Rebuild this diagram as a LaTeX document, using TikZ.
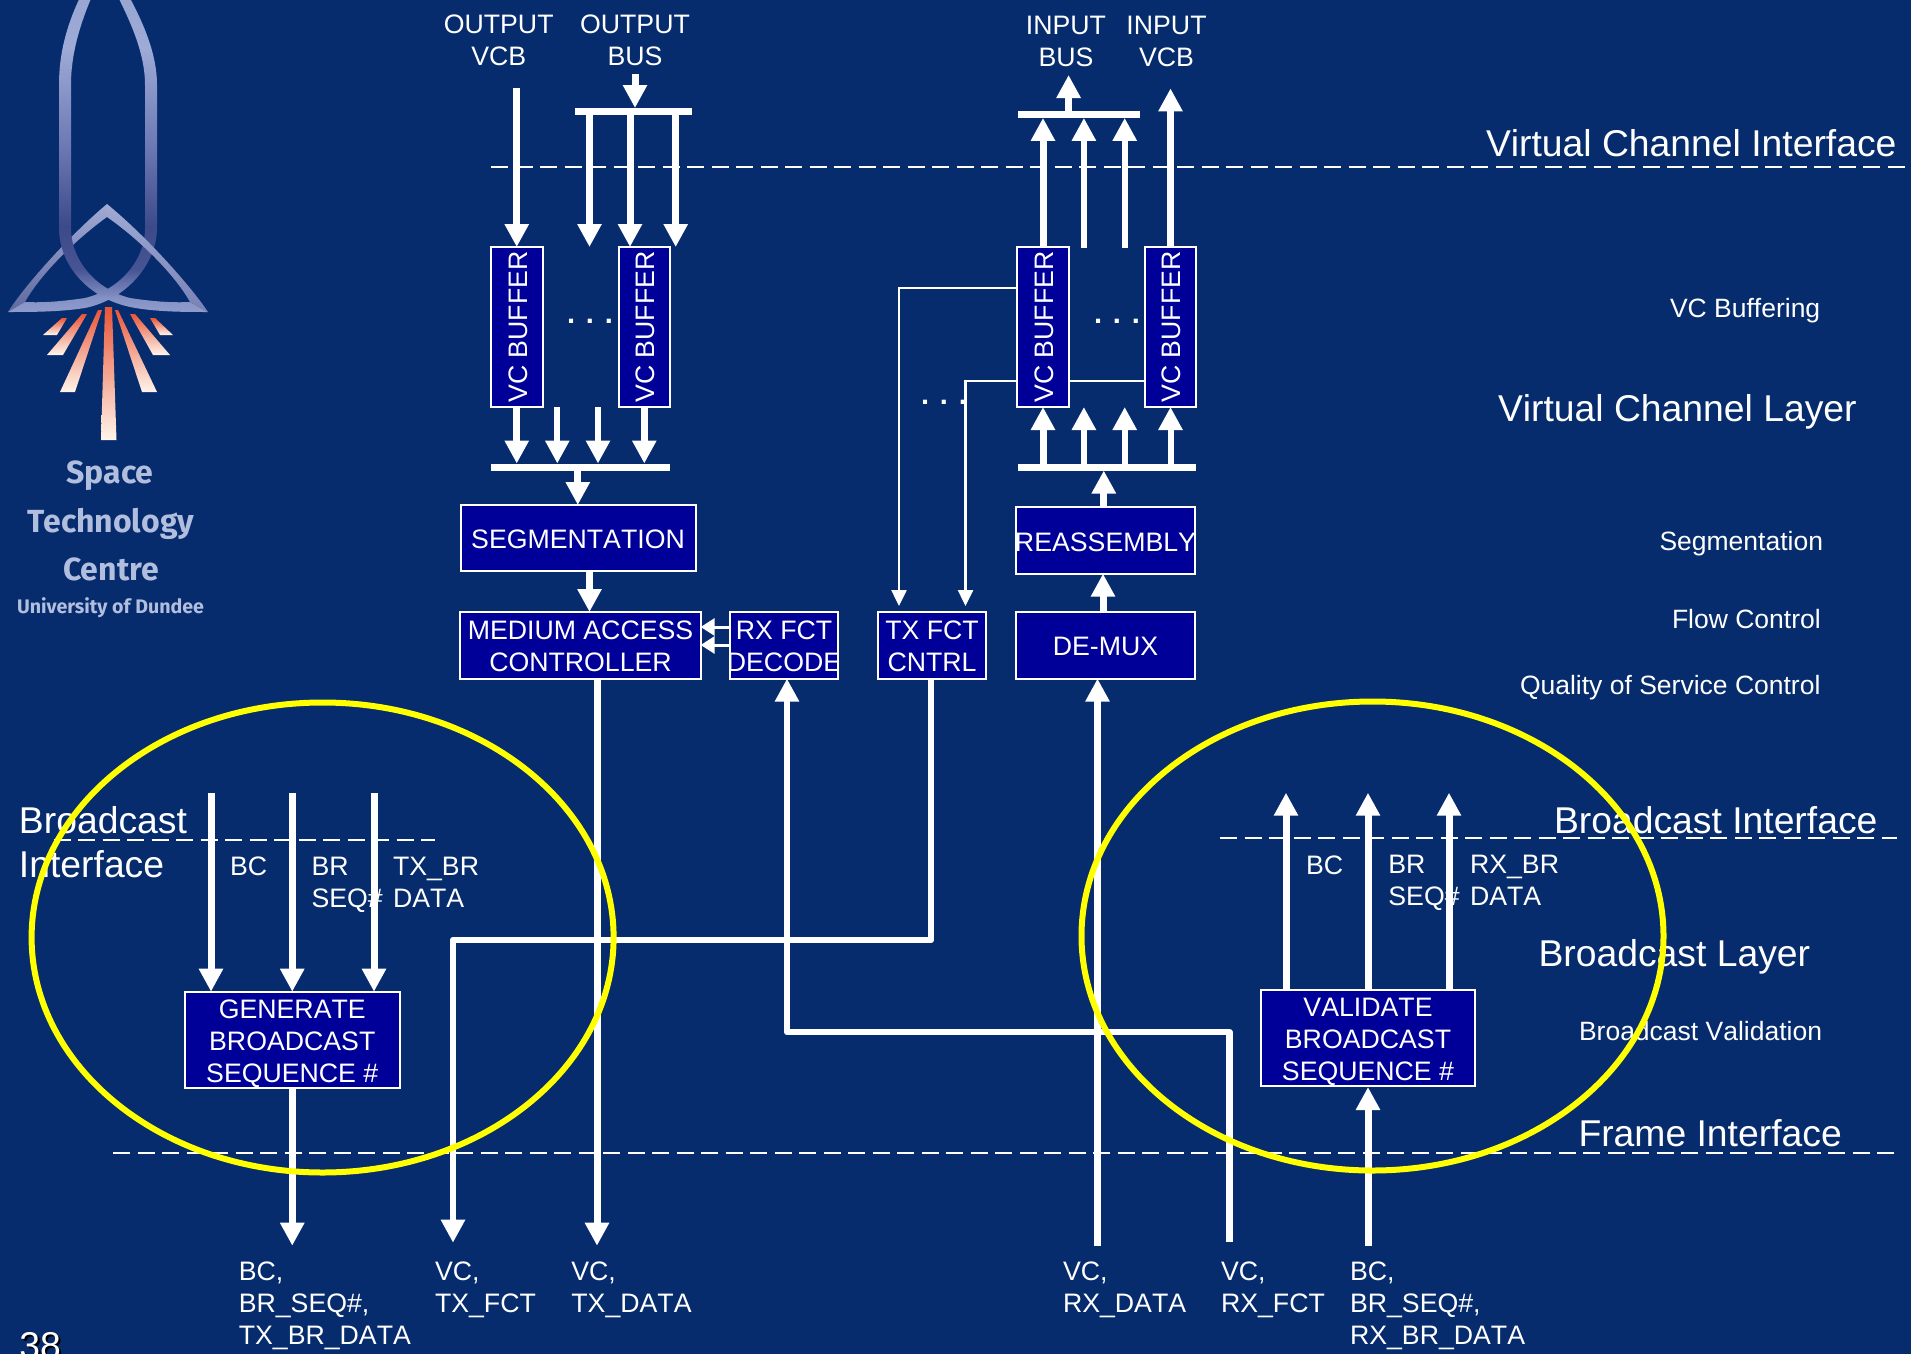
\documentclass[tikz,border=0pt]{standalone}
\usepackage{fontspec}
\setmainfont[Kerning=Off]{Liberation Sans}
\newfontfamily\logofont{Fira Sans}
\usetikzlibrary{arrows.meta}
\definecolor{bgblue}{RGB}{6,44,110}
\definecolor{boxblue}{RGB}{0,0,153}
\definecolor{ringyellow}{RGB}{255,255,0}
\definecolor{logotext}{RGB}{178,190,222}
\definecolor{tritop}{RGB}{160,170,212}
\definecolor{trimid}{RGB}{120,130,182}
\definecolor{trilow}{RGB}{95,105,160}
\definecolor{raytop}{RGB}{232,85,55}
\definecolor{raybot}{RGB}{255,245,235}
\pgfdeclareverticalshading{logoarch}{100bp}{
  rgb(0bp)=(.56,.61,.80);
  rgb(25bp)=(.56,.61,.80);
  rgb(27bp)=(.52,.57,.77);
  rgb(31bp)=(.28,.33,.58);
  rgb(37bp)=(.24,.29,.54);
  rgb(48bp)=(.42,.47,.70);
  rgb(62bp)=(.62,.67,.84);
  rgb(69bp)=(.60,.65,.82);
  rgb(100bp)=(.60,.65,.82)}
\newcommand\fsm{\fontsize{26.7}{32}\selectfont}
\newcommand\fsn{\fontsize{26.5}{32}\selectfont}
\newcommand\fbig{\fontsize{37.3}{44}\selectfont}
\tikzset{
  x=1pt,y=-1pt,
  blockbox/.style={draw=white,line width=2pt,fill=boxblue,text=white,inner sep=0pt,outer sep=0pt,align=center,font=\fsm},
  busbar/.style={fill=white,inner sep=0pt,outer sep=0pt,minimum height=7pt},
  fatarrow/.style={white,line width=7pt,-{Triangle[length=23pt,width=23pt]}},
  midarrow/.style={white,line width=6pt,-{Triangle[length=23pt,width=23pt]}},
  fatline/.style={white,line width=6.5pt,line join=round},
  midline/.style={white,line width=6pt},
  tinyarrow/.style={white,line width=3pt,-{Triangle[length=14pt,width=17pt]}},
  wirearrow/.style={white,line width=2.5pt,-{Triangle[length=16pt,width=15pt]}},
  wire/.style={white,line width=2.5pt},
  ifaceline/.style={white,line width=2.5pt,dash pattern=on 17pt off 7.5pt},
  lab/.style={text=white,font=\fsm,inner sep=0pt,outer sep=0pt,align=left,anchor=north west},
  labc/.style={text=white,font=\fsm,inner sep=0pt,outer sep=0pt,align=center,anchor=north},
  biglab/.style={text=white,font=\fbig,inner sep=0pt,outer sep=0pt,anchor=base west},
  smalllab/.style={text=white,font=\fsn,inner sep=0pt,outer sep=0pt,anchor=base west},
  dots/.style={text=white,font=\bfseries\fontsize{29}{32}\selectfont,inner sep=0pt,outer sep=0pt,anchor=base},
  ring/.style={ringyellow,line width=6pt},
  raysh/.style={top color=raytop,bottom color=raybot},
  logolab/.style={text=logotext,inner sep=0pt,outer sep=0pt,anchor=center},
}
\begin{document}
\begin{tikzpicture}
\useasboundingbox (0,0) rectangle (1911,1354);
\clip (0,0) rectangle (1911,1354);
\fill[bgblue] (0,0) rectangle (1911,1354);

% --- logo
\shade[top color=tritop,bottom color=trilow]
  (107,204) .. controls (70,235) and (25,285) .. (8,312)
  -- (25,302) .. controls (40,275) and (75,240) .. (107,217) -- cycle;
\shade[shading=logoarch]
  (8,312) .. controls (30,312) and (60,312) .. (85,308)
  .. controls (125,300) and (157,265) .. (157,228) -- (157,85)
  .. controls (157,50) and (140,10) .. (104,-45)
  .. controls (68,10) and (59,50) .. (59,85) -- (59,228)
  .. controls (59,265) and (88,298) .. (130,307)
  .. controls (155,312) and (185,312) .. (208,312)
  -- (190,302) .. controls (170,303) and (150,301) .. (130,298)
  .. controls (98,290) and (71,262) .. (71,228) -- (71,85)
  .. controls (71,50) and (82,15) .. (104,-30)
  .. controls (128,15) and (145,50) .. (145,85) -- (145,228)
  .. controls (145,262) and (118,290) .. (85,298)
  .. controls (65,301) and (45,303) .. (25,302) -- cycle;
\shade[top color=tritop,bottom color=trimid]
  (107,204) .. controls (145,235) and (190,285) .. (208,312)
  -- (190,302) .. controls (175,275) and (140,240) .. (107,217) -- cycle;
\shade[raysh] (105,307) -- (112,307) -- (116.5,440) -- (101,440) -- cycle;
\shade[raysh] (98,310) -- (102,310) -- (75,392) -- (60,392) -- cycle;
\shade[raysh] (115,310) -- (118,310) -- (157,392) -- (142,392) -- cycle;
\shade[raysh] (82,314) -- (87,314) -- (63,355) -- (47,355) -- cycle;
\shade[raysh] (130,314) -- (135,314) -- (170,355) -- (153,355) -- cycle;
\shade[raysh] (62,318) -- (67,318) -- (57,335) -- (43,335) -- cycle;
\shade[raysh] (150,318) -- (155,318) -- (173,335) -- (160,335) -- cycle;
\node[logolab,font=\logofont\bfseries\fontsize{32}{38}\selectfont] (lgA) at (110,476) {Space};
\node[logolab,font=\logofont\bfseries\fontsize{32}{38}\selectfont] (lgB) at (111,523.5) {Technology};
\node[logolab,font=\logofont\bfseries\fontsize{32}{38}\selectfont] (lgC) at (111,569) {Centre};
\node[logolab,font=\logofont\bfseries\fontsize{19.6}{25}\selectfont] (lgD) at (110.5,608) {University of Dundee};

% --- interface lines
\coordinate (vciL) at (491,167);   \coordinate (vciR) at (1911,167);
\coordinate (biaL) at (53.6,840);  \coordinate (biaR) at (435,840);
\coordinate (bibL) at (1220,838);  \coordinate (bibR) at (1897,838);
\coordinate (friL) at (113,1153);  \coordinate (friR) at (1899,1153);
\draw[ifaceline] (vciL) -- (vciR);
\draw[ifaceline] (biaL) -- (biaR);
\draw[ifaceline] (bibL) -- (bibR);
\draw[ifaceline] (friL) -- (friR);

% --- blocks
\node[blockbox,minimum width=51.5pt,minimum height=160pt] (vcA) at (516.75,327) {\rotatebox{90}{\rule{0pt}{21pt}VC BUFFER}};
\node[blockbox,minimum width=51.5pt,minimum height=160pt] (vcB) at (644.3,327) {\rotatebox{90}{\rule{0pt}{21pt}VC BUFFER}};
\node[blockbox,minimum width=51.5pt,minimum height=160pt] (vcC) at (1043,327) {\rotatebox{90}{\rule{0pt}{21pt}VC BUFFER}};
\node[blockbox,minimum width=51.5pt,minimum height=160pt] (vcD) at (1170.5,327) {\rotatebox{90}{\rule{0pt}{21pt}VC BUFFER}};
\node[blockbox,minimum width=235pt,minimum height=66.4pt] (seg) at (578,538.2) {\rule{0pt}{21pt}SEGMENTATION};
\node[blockbox,minimum width=240.3pt,minimum height=66.6pt] (mac) at (580.5,645.3) {\rule{0pt}{21pt}MEDIUM ACCESS\\CONTROLLER};
\node[blockbox,minimum width=108pt,minimum height=66.6pt,
  path picture={\node[text=white,font=\fsm,align=center,inner sep=0pt] (rxtxt) at ([yshift=-1pt]path picture bounding box.center) {RX FCT\\DECODE};}]
  (rx) at (784,645.3) {};
\node[blockbox,minimum width=108pt,minimum height=66.6pt] (tx) at (932,645.3) {\rule{0pt}{21pt}TX FCT\\CNTRL};
\node[blockbox,minimum width=179pt,minimum height=66.6pt] (demux) at (1105.5,645.3) {\rule{0pt}{21pt}DE-MUX};
\node[blockbox,minimum width=179pt,minimum height=66.7pt] (reasm) at (1105.5,540.3) {\rule{0pt}{23pt}\makebox[0pt]{REASSEMBLY}};
\node[blockbox,minimum width=214.5pt,minimum height=94pt] (gen) at (292.25,1039.7) {\rule{0pt}{27pt}GENERATE\\BROADCAST\\SEQUENCE \#};
\node[blockbox,minimum width=214pt,minimum height=94.3pt] (val) at (1368,1037.9) {\rule{0pt}{27pt}VALIDATE\\BROADCAST\\SEQUENCE \#};

% --- bus bars
\node[busbar,minimum width=116.8pt] (busA) at (633.1,111.5) {};
\node[busbar,minimum width=179pt] (busB) at (580.5,467) {};
\node[busbar,minimum width=178.5pt] (busC) at (1106.75,467) {};
\node[busbar,minimum width=122.5pt] (busD) at (1078.75,114.4) {};

% --- free ends
\coordinate (inOVCB) at (516.75,88);
\coordinate (inOBUS) at (635,74.5);
\coordinate (outA) at (589.5,247);
\coordinate (outB) at (675.7,247);
\coordinate (lowA) at (557.3,407);
\coordinate (lowB) at (598,407);
\coordinate (upA) at (1083.9,247.5);
\coordinate (upB) at (1124.7,247.5);
\coordinate (tipIBUS) at (1068.6,75);
\coordinate (tipIVCB) at (1170.5,88.4);
\coordinate (wireA) at (899,288);
\coordinate (wireB) at (965.5,381);
\coordinate (wireAe) at (899,606);
\coordinate (wireBe) at (965.5,606);
\coordinate (macE) at (597,1245.7);
\coordinate (txC) at (453,940);
\coordinate (txE) at (453,1242.7);
\coordinate (rxS) at (1229.4,1242);
\coordinate (rxC) at (1229.4,1032);
\coordinate (dmS) at (1097.5,1245.5);
\coordinate (genE) at (292.25,1245.7);
\coordinate (valS) at (1368,1245.5);
\coordinate (bcIa) at (211,793);
\coordinate (bcIb) at (292.25,793);
\coordinate (bcIc) at (374,793);
\coordinate (bcOa) at (1286,792.7);
\coordinate (bcOb) at (1368,792.7);
\coordinate (bcOc) at (1449,792.7);

% --- thin wires
\draw[wirearrow] (vcC.west |- wireA) -- (wireA) -- (wireAe);
\draw[wirearrow] (vcC.west |- wireB) -- (wireB) -- (wireBe);
\draw[wire] (vcC.east |- wireB) -- (vcD.west |- wireB);

% --- arrows, left column
\draw[fatarrow] (inOVCB) -- (vcA.north);
\draw[fatarrow] (inOBUS) -- (inOBUS |- busA.north);
\draw[fatarrow] (outA |- busA.south) -- (outA);
\draw[fatarrow] (630,0 |- busA.south) -- (630,0 |- vcB.north);
\draw[fatarrow] (outB |- busA.south) -- (outB);
\draw[fatarrow] (vcA.south) -- (vcA.south |- busB.north);
\draw[midarrow] (lowA) -- (lowA |- busB.north);
\draw[midarrow] (lowB) -- (lowB |- busB.north);
\draw[fatarrow] (vcB.south) -- (vcB.south |- busB.north);
\draw[fatarrow] (577.8,0 |- busB.south) -- (577.8,0 |- seg.north);
\draw[fatarrow] (589.5,0 |- seg.south) -- (589.5,0 |- mac.north);
\draw[tinyarrow] (rx.west |- 0,627) -- (mac.east |- 0,627);
\draw[tinyarrow] (rx.west |- 0,645) -- (mac.east |- 0,645);
\draw[fatarrow] (597,0 |- mac.south) -- (macE);
\draw[fatline,-{Triangle[length=23pt,width=23pt]}] (931,0 |- tx.south) |- (txC) -- (txE);
\draw[fatline,-{Triangle[length=23pt,width=23pt]}] (rxS) -- (rxC) -| (787,0 |- rx.south);
\draw[fatarrow] (dmS) -- (dmS |- demux.south);

% --- arrows, right column
\draw[fatarrow] (1103,0 |- demux.north) -- (1103,0 |- reasm.south);
\draw[fatarrow] (1103.8,0 |- reasm.north) -- (1103.8,0 |- busC.south);
\draw[fatarrow] (vcC.south |- busC.north) -- (vcC.south);
\draw[midarrow] (1083.9,0 |- busC.north) -- (1083.9,0 |- vcC.south);
\draw[midarrow] (1124.7,0 |- busC.north) -- (1124.7,0 |- vcC.south);
\draw[midarrow] (vcD.south |- busC.north) -- (vcD.south);
\draw[fatarrow] (vcC.north) -- (vcC.north |- busD.south);
\draw[midarrow] (upA) -- (upA |- busD.south);
\draw[midarrow] (upB) -- (upB |- busD.south);
\draw[fatarrow] (tipIBUS |- busD.north) -- (tipIBUS);
\draw[fatarrow] (vcD.north) -- (tipIVCB);

% --- broadcast arrows
\draw[fatarrow] (bcIa) -- (bcIa |- gen.north);
\draw[fatarrow] (bcIb) -- (bcIb |- gen.north);
\draw[fatarrow] (bcIc) -- (bcIc |- gen.north);
\draw[fatarrow] (gen.south) -- (genE);
\draw[fatarrow] (bcOa |- val.north) -- (bcOa);
\draw[fatarrow] (bcOb |- val.north) -- (bcOb);
\draw[fatarrow] (bcOc |- val.north) -- (bcOc);
\draw[fatarrow] (valS) -- (1368,1087);

% --- dots
\node[dots] (dA) at (590,323) {. . .};
\node[dots] (dB) at (1117,323) {. . .};
\node[dots] (dC) at (944,404.5) {. . .};

% --- labels
\node[labc] (tA) at (498.7,15) {OUTPUT\\VCB};
\node[labc] (tB) at (635,15) {OUTPUT\\BUS};
\node[labc] (tC) at (1066,16) {INPUT\\BUS};
\node[labc] (tD) at (1166.5,16) {INPUT\\VCB};
\node[lab] (lA) at (230,857) {BC};
\node[lab] (lB) at (311.6,857) {BR\\SEQ\#};
\node[lab] (lC) at (393,857) {TX\_BR\\DATA};
\node[lab] (lD) at (1306,855.5) {BC};
\node[lab] (lE) at (1388.4,855.5) {BR\\SEQ\#};
\node[lab] (lF) at (1470,855.5) {RX\_BR\\DATA};
\node[lab] (bA) at (238.8,1262) {BC,\\BR\_SEQ\#,\\TX\_BR\_DATA};
\node[lab] (bB) at (435,1262) {VC,\\TX\_FCT};
\node[lab] (bC) at (571.4,1262) {VC,\\TX\_DATA};
\node[lab] (bD) at (1063,1262) {VC,\\RX\_DATA};
\node[lab] (bE) at (1221,1262) {VC,\\RX\_FCT};
\node[lab] (bF) at (1350,1262) {BC,\\BR\_SEQ\#,\\RX\_BR\_DATA};
\node[biglab] (gA) at (1486,156.5) {Virtual Channel Interface};
\node[biglab] (gB) at (1498,421.5) {Virtual Channel Layer};
\node[biglab] (gC) at (1554,833.5) {Broadcast Interface};
\node[biglab] (gD) at (1538.5,966.5) {Broadcast Layer};
\node[biglab] (gE) at (1578.5,1146.5) {Frame Interface};
\node[biglab] (gF) at (19,833.5) {Broadcast};
\node[biglab] (gG) at (19,877.5) {Interface};
\node[smalllab] (sA) at (1670,317.5) {VC Buffering};
\node[smalllab] (sB) at (1659.5,550) {Segmentation};
\node[smalllab] (sC) at (1672,628) {Flow Control};
\node[smalllab] (sD) at (1520,694) {Quality of Service Control};
\node[smalllab] (sE) at (1579,1040) {Broadcast Validation};
\node[biglab,text=black] (pgS) at (21.5,1360.5) {38};
\node[biglab] (pg) at (19.5,1358.5) {38};

% --- rings
\draw[ring] (322.6,937.5) ellipse [x radius=291pt,y radius=235pt];
\draw[ring] (1372.5,936) ellipse [x radius=291pt,y radius=234.5pt];
\end{tikzpicture}
\end{document}
